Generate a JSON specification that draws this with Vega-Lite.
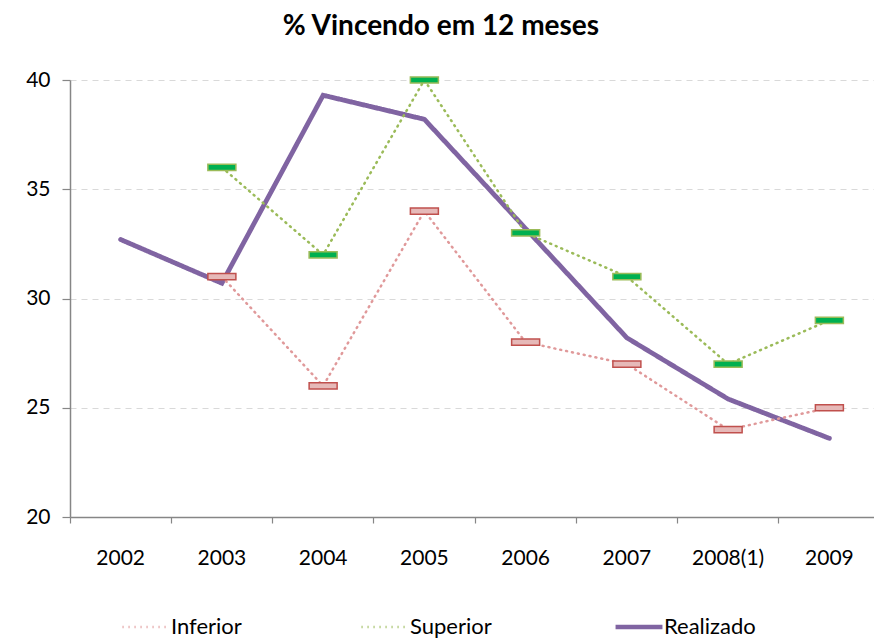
{
  "$schema": "https://vega.github.io/schema/vega-lite/v6.json",
  "width": 804,
  "height": 437,
  "autosize": {"type": "none"},
  "padding": {"left": 70, "top": 80, "right": 0, "bottom": 124},
  "background": "white",
  "title": {"text": "% Vincendo em 12 meses", "font": "Lato", "fontSize": 28, "fontWeight": "bold", "color": "#000000", "offset": 28, "dx": -31},
  "config": {"view": {"stroke": null}, "font": "Lato"},
  "data": {"values": [
    {"ano": "2002", "serie": "Realizado", "valor": 32.7},
    {"ano": "2003", "serie": "Realizado", "valor": 30.7},
    {"ano": "2004", "serie": "Realizado", "valor": 39.3},
    {"ano": "2005", "serie": "Realizado", "valor": 38.2},
    {"ano": "2006", "serie": "Realizado", "valor": 33.2},
    {"ano": "2007", "serie": "Realizado", "valor": 28.2},
    {"ano": "2008(1)", "serie": "Realizado", "valor": 25.4},
    {"ano": "2009", "serie": "Realizado", "valor": 23.6},
    {"ano": "2003", "serie": "Inferior", "valor": 31},
    {"ano": "2004", "serie": "Inferior", "valor": 26},
    {"ano": "2005", "serie": "Inferior", "valor": 34},
    {"ano": "2006", "serie": "Inferior", "valor": 28},
    {"ano": "2007", "serie": "Inferior", "valor": 27},
    {"ano": "2008(1)", "serie": "Inferior", "valor": 24},
    {"ano": "2009", "serie": "Inferior", "valor": 25},
    {"ano": "2003", "serie": "Superior", "valor": 36},
    {"ano": "2004", "serie": "Superior", "valor": 32},
    {"ano": "2005", "serie": "Superior", "valor": 40},
    {"ano": "2006", "serie": "Superior", "valor": 33},
    {"ano": "2007", "serie": "Superior", "valor": 31},
    {"ano": "2008(1)", "serie": "Superior", "valor": 27},
    {"ano": "2009", "serie": "Superior", "valor": 29}
  ]},
  "encoding": {
    "x": {"field": "ano", "type": "ordinal", "sort": ["2002","2003","2004","2005","2006","2007","2008(1)","2009"],
      "scale": {"type": "band", "domain": ["2002","2003","2004","2005","2006","2007","2008(1)","2009"], "range": [0, 810], "paddingInner": 0, "paddingOuter": 0},
      "axis": {"title": null, "labelAngle": 0, "bandPosition": 0, "labelFontSize": 21, "labelColor": "#000000", "labelFont": "Lato", "labelPadding": 24, "tickSize": 6, "tickColor": "#868686", "domainColor": "#868686", "domainWidth": 1.5, "tickWidth": 1.2, "grid": false}},
    "y": {"field": "valor", "type": "quantitative",
      "scale": {"domain": [20, 40], "nice": false, "zero": false},
      "axis": {"title": null, "values": [20, 25, 30, 35, 40], "labelFontSize": 21, "labelColor": "#000000", "labelFont": "Lato", "labelPadding": 12, "tickSize": 8, "tickColor": "#868686", "domainColor": "#868686", "domainWidth": 1.5, "tickWidth": 1.2, "grid": true, "gridDash": [6, 5], "gridColor": "#d9d9d9", "gridWidth": 1}}
  },
  "layer": [
    {
      "mark": {"type": "line", "strokeCap": "round"},
      "encoding": {
        "color": {"field": "serie", "type": "nominal",
          "scale": {"domain": ["Inferior", "Superior", "Realizado"], "range": ["#e0999a", "#9bbb59", "#8064a2"]},
          "legend": {"title": null, "orient": "none", "legendX": 65, "legendY": 536, "direction": "horizontal", "columns": 3, "gridAlign": "none", "columnPadding": 114, "symbolType": "stroke", "symbolSize": 2200, "labelFontSize": 22, "labelFont": "Lato", "labelColor": "#000000", "labelOffset": 14,
            "encode": {"symbols": {"update": {"strokeWidth": {"signal": "datum.label === 'Realizado' ? 4.5 : 2.5"}}}}}},
        "strokeDash": {"field": "serie", "type": "nominal",
          "scale": {"domain": ["Inferior", "Superior", "Realizado"], "range": [[1, 5], [1, 5], [1, 0]]},
          "legend": {"title": null, "orient": "none", "legendX": 65, "legendY": 536, "direction": "horizontal", "columns": 3, "gridAlign": "none", "columnPadding": 114, "symbolType": "stroke", "symbolSize": 2200, "labelFontSize": 22, "labelFont": "Lato", "labelColor": "#000000", "labelOffset": 14,
            "encode": {"symbols": {"update": {"strokeWidth": {"signal": "datum.label === 'Realizado' ? 4.5 : 2.5"}}}}}},
        "strokeWidth": {"condition": {"test": "datum.serie === 'Realizado'", "value": 4.8}, "value": 2.5}
      }
    },
    {
      "transform": [{"filter": "datum.serie !== 'Realizado'"}],
      "mark": {"type": "point", "filled": true, "shape": "M-1,-0.22H1V0.22H-1Z", "size": 784, "strokeWidth": 1.5, "opacity": 1},
      "encoding": {
        "fill": {"field": "serie", "type": "nominal", "scale": {"domain": ["Inferior", "Superior"], "range": ["#e6b9b8", "#00b050"]}, "legend": null},
        "stroke": {"field": "serie", "type": "nominal", "scale": {"domain": ["Inferior", "Superior"], "range": ["#c0504d", "#9bbb59"]}, "legend": null}
      }
    }
  ]
}
